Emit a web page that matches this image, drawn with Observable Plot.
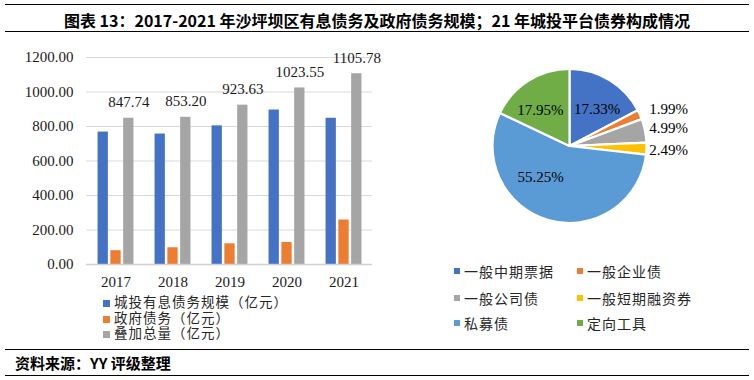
<!DOCTYPE html>
<html>
<head>
<meta charset="utf-8">
<script src="https://cdn.jsdelivr.net/npm/d3@7"></script>
<script src="https://cdn.jsdelivr.net/npm/@observablehq/plot@0.6"></script>
<style>
  body { margin: 0; background: #fff; }
  #wrap { position: relative; width: 754px; height: 380px; background: #fff; overflow: hidden; font-family: "Liberation Serif", "Noto Sans CJK SC", serif; }
  .hline { position: absolute; left: 5px; width: 744px; height: 0; border-top: 1.5px solid #000; }
  #title { position: absolute; left: 0; width: 754px; top: 9px; text-align: center; font-family: "Noto Sans CJK SC", sans-serif; font-weight: 700; font-size: 16px; line-height: 22px; color: #000; }
  #source { position: absolute; left: 15px; top: 352px; font-family: "Noto Sans CJK SC", sans-serif; font-weight: 700; font-size: 15px; line-height: 22px; color: #000; }
  .abs { position: absolute; }
  .leg { position: absolute; font-family: "Noto Sans CJK SC", sans-serif; font-size: 14px; color: #262626; white-space: nowrap; }
  .legb { position: absolute; font-family: "Liberation Serif", "Noto Sans CJK SC", sans-serif; font-size: 13.5px; color: #262626; white-space: nowrap; }
  .sw { position: absolute; }
</style>
</head>
<body>
<div id="wrap">
  <div class="hline" style="top:4px"></div>
  <div id="title"></div>
  <div class="hline" style="top:31px"></div>
  <div id="bars" class="abs" style="left:0;top:0"></div>
  <div id="barLegend"></div>
  <div id="pie" class="abs" style="left:440px;top:50px"></div>
  <div id="pieLegend"></div>
  <div class="hline" style="top:349px"></div>
  <div id="source"></div>
  <div class="hline" style="top:375px"></div>
</div>
<script>
// ---------- data ----------
const titleText = "图表 13：2017-2021 年沙坪坝区有息债务及政府债务规模；21 年城投平台债券构成情况";
const sourceText = "资料来源：YY 评级整理";

const years = ["2017", "2018", "2019", "2020", "2021"];
const urbanDebt = [767.7, 756.2, 803.6, 895.6, 847.8];   // 城投有息债务规模
const govDebt = [80, 97, 120, 128, 258];                  // 政府债务
const totalDebt = [847.74, 853.20, 923.63, 1023.55, 1105.78]; // 叠加总量
const barSeries = ["城投有息债务规模（亿元）", "政府债务（亿元）", "叠加总量（亿元）"];
const yTicks = [0, 200, 400, 600, 800, 1000, 1200];

const pieCategories = ["一般中期票据", "一般企业债", "一般公司债", "一般短期融资券", "私募债", "定向工具"];
const pieShares = [17.33, 1.99, 4.99, 2.49, 55.25, 17.95];

// ---------- styles ----------
const barColors = ["#4472C4", "#ED7D31", "#A5A5A5"];
const pieColors = ["#4472C4", "#ED7D31", "#A5A5A5", "#FFC000", "#5B9BD5", "#70AD47"];

document.getElementById("title").textContent = titleText;
document.getElementById("source").textContent = sourceText;

// ---------- bar chart ----------
const rows = years.map((y, i) => ({year: y, urban: urbanDebt[i], gov: govDebt[i], total: totalDebt[i]}));
const bw = 10.5, step = 12.8, band = (372 - 86) / years.length;
const inset = (band - bw) / 2;
const fmt = d3.format(".2f");
const numFont = "Liberation Serif";

const barChart = Plot.plot({
  width: 380,
  height: 295,
  marginLeft: 86,
  marginRight: 8,
  marginTop: 57,
  marginBottom: 31,
  style: {fontFamily: numFont, fontSize: "15px", color: "#262626", background: "transparent", overflow: "visible"},
  x: {domain: years, padding: 0, axis: null},
  y: {domain: [0, 1200], axis: null},
  marks: [
    Plot.gridY(yTicks.filter(t => t > 0), {stroke: "#d9d9d9", strokeOpacity: 1, strokeWidth: 1}),
    Plot.barY(rows, {x: "year", y: "urban", fill: barColors[0], insetLeft: inset, insetRight: inset, dx: -step}),
    Plot.barY(rows, {x: "year", y: "gov", fill: barColors[1], insetLeft: inset, insetRight: inset}),
    Plot.barY(rows, {x: "year", y: "total", fill: barColors[2], insetLeft: inset, insetRight: inset, dx: step}),
    Plot.ruleY([0], {stroke: "#d0d0d0", strokeWidth: 1.5}),
    Plot.text(rows, {x: "year", y: "total", text: d => fmt(d.total), dx: step, dy: -16, fontSize: 15, fill: "#1a1a1a", fontFamily: numFont}),
    Plot.axisY(yTicks, {tickSize: 0, tickPadding: 13, tickFormat: fmt, fontSize: 15, fill: "#1a1a1a"}),
    Plot.axisX({tickSize: 0, tickPadding: 12, fontSize: 15, fill: "#1a1a1a", label: null})
  ]
});
document.getElementById("bars").appendChild(barChart);

// bar legend
const bl = document.getElementById("barLegend");
const barLegY = [303.3, 319, 334.3];
barSeries.forEach((s, i) => {
  const sw = document.createElement("div");
  sw.className = "sw";
  Object.assign(sw.style, {left: "102.5px", top: (barLegY[i] - 3.5) + "px", width: "7px", height: "7px", background: barColors[i]});
  bl.appendChild(sw);
  const t = document.createElement("div");
  t.className = "legb";
  t.textContent = s;
  Object.assign(t.style, {left: "114px", top: (barLegY[i] - 7) + "px", lineHeight: "14px", height: "14px", letterSpacing: "1px"});
  bl.appendChild(t);
});

// ---------- pie chart ----------
const pieData = pieCategories.map((c, i) => ({cat: c, value: pieShares[i], color: pieColors[i]}));
const arcs = d3.pie().sort(null).value(d => d.value)(pieData);
// label placement (style): inside labels at fraction of radius; outside labels to the right
const labelPlace = [
  {r: 0.6, angle: 36}, {out: true, r: 1.2}, {out: true, r: 1.2}, {out: true, r: 1.45}, {r: 0.55, angle: 224}, {r: 0.61, angle: -39}
];
const labels = arcs.map((a, i) => {
  const p = labelPlace[i];
  const ang = p.angle != null ? p.angle * Math.PI / 180 : (a.startAngle + a.endAngle) / 2;
  if (p.out) {
    return {x: 1.03, y: p.r * Math.cos(ang), text: fmt(a.data.value) + "%", anchor: "start"};
  }
  return {x: p.r * Math.sin(ang), y: p.r * Math.cos(ang), text: fmt(a.data.value) + "%", anchor: "middle"};
});

const cxs = 129.5, cys = 96, R = 77;
const pieChart = Plot.plot({
  width: 300,
  height: 200,
  margin: 0,
  style: {fontFamily: numFont, background: "transparent", overflow: "visible"},
  x: {domain: [-1, 1], range: [cxs - R, cxs + R], axis: null},
  y: {domain: [-1, 1], range: [cys + R, cys - R], axis: null},
  marks: [
    (index, scales) => {
      const cx = scales.x(0), cy = scales.y(0), r = scales.x(1) - scales.x(0);
      const arcGen = d3.arc().innerRadius(0).outerRadius(r);
      const g = d3.create("svg:g").attr("transform", `translate(${cx},${cy})`);
      g.selectAll("path").data(arcs).join("path")
        .attr("d", arcGen)
        .attr("fill", d => d.data.color)
        .attr("stroke", "#fff")
        .attr("stroke-width", 2.2)
        .attr("stroke-linejoin", "round");
      return g.node();
    },
    Plot.text(labels.filter(d => d.anchor === "middle"), {x: "x", y: "y", text: "text", fontSize: 15, fill: "#000", textAnchor: "middle", fontFamily: numFont}),
    Plot.text(labels.filter(d => d.anchor === "start"), {x: "x", y: "y", text: "text", fontSize: 15, fill: "#000", textAnchor: "start", fontFamily: numFont})
  ]
});
document.getElementById("pie").appendChild(pieChart);

// pie legend
const pl = document.getElementById("pieLegend");
const colX = [[454, 464], [577, 587]];
const rowY = [270.7, 297.7, 322.7];
pieCategories.forEach((c, i) => {
  const col = i % 2, row = Math.floor(i / 2);
  const sw = document.createElement("div");
  sw.className = "sw";
  Object.assign(sw.style, {left: colX[col][0] + "px", top: (rowY[row] - 3) + "px", width: "6px", height: "6px", background: pieColors[i]});
  pl.appendChild(sw);
  const t = document.createElement("div");
  t.className = "leg";
  t.textContent = c;
  Object.assign(t.style, {left: colX[col][1] + "px", top: (rowY[row] - 8) + "px", lineHeight: "16px", letterSpacing: "1px"});
  pl.appendChild(t);
});
</script>
</body>
</html>
